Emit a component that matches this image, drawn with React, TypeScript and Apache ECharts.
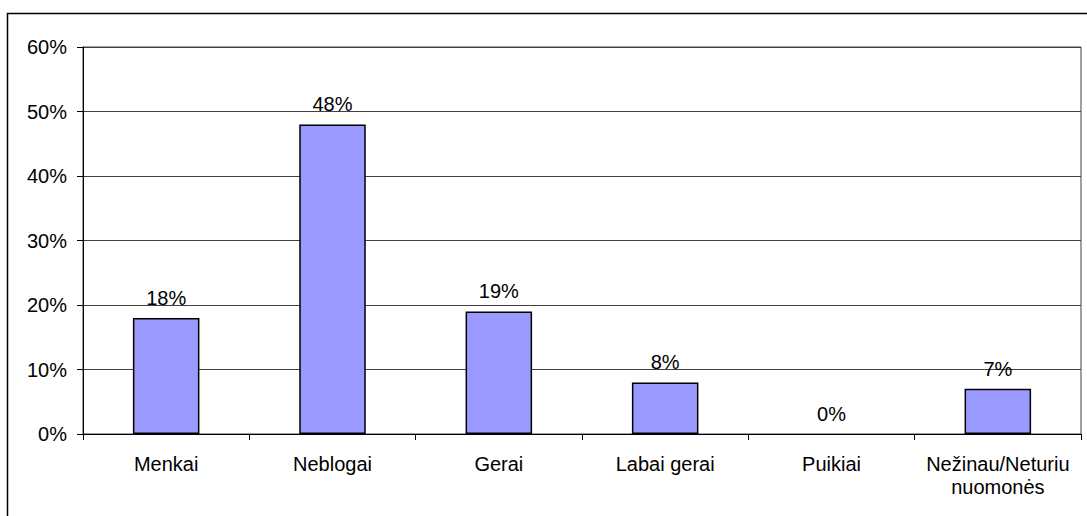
import React, { useEffect, useRef } from "react";
import * as echarts from "echarts";

const categories = ["Menkai", "Neblogai", "Gerai", "Labai gerai", "Puikiai", "Nežinau/Neturiu\nnuomonės"];
const values = [18, 48, 19, 8, 0, 7];
const yMax = 60;
const yInterval = 10;

export default function App() {
  const ref = useRef<HTMLDivElement>(null);
  useEffect(() => {
    if (!ref.current) return;
    const chart = echarts.init(ref.current, undefined, { renderer: "svg" });
    const font = "Liberation Sans, Arial, sans-serif";
    chart.setOption({
      animation: false,
      backgroundColor: "#ffffff",
      textStyle: { fontFamily: font },
      graphic: [
        {
          type: "rect",
          shape: { x: 7.5, y: 13.5, width: 1200, height: 600 },
          style: { fill: "none", stroke: "#000", lineWidth: 1.5 },
          silent: true,
        },
      ],
      grid: {
        left: 83,
        right: 6,
        top: 47,
        bottom: 82,
        show: true,
        borderColor: "#404040",
        borderWidth: 1,
      },
      xAxis: {
        type: "category",
        data: categories,
        axisLine: { lineStyle: { color: "#000", width: 1 } },
        axisTick: { show: true, length: 6, alignWithLabel: false, lineStyle: { color: "#000" } },
        axisLabel: { color: "#000", fontSize: 20, margin: 18, lineHeight: 23, fontFamily: font, interval: 0 },
      },
      yAxis: {
        type: "value",
        min: 0,
        max: yMax,
        interval: yInterval,
        axisLine: { show: true, lineStyle: { color: "#000", width: 1 } },
        axisTick: { show: true, length: 6, lineStyle: { color: "#000" } },
        axisLabel: { color: "#000", fontSize: 20, margin: 16, formatter: "{value}%", fontFamily: font },
        splitLine: { show: true, lineStyle: { color: "#404040", width: 1 } },
      },
      series: [
        {
          type: "bar",
          data: values.map((v) => (v === 0 ? { value: v, itemStyle: { borderWidth: 0 } } : v)),
          barWidth: "40%",
          itemStyle: { color: "#9999FF", borderColor: "#000", borderWidth: 1.5 },
          label: {
            show: true,
            position: "top",
            distance: 10,
            formatter: "{c}%",
            color: "#000",
            fontSize: 20,
            fontFamily: font,
          },
        },
      ],
    });
    return () => chart.dispose();
  }, []);
  return (
    <div
      ref={ref}
      style={{ position: "fixed", left: 0, top: 0, width: 1087, height: 516 }}
    />
  );
}
